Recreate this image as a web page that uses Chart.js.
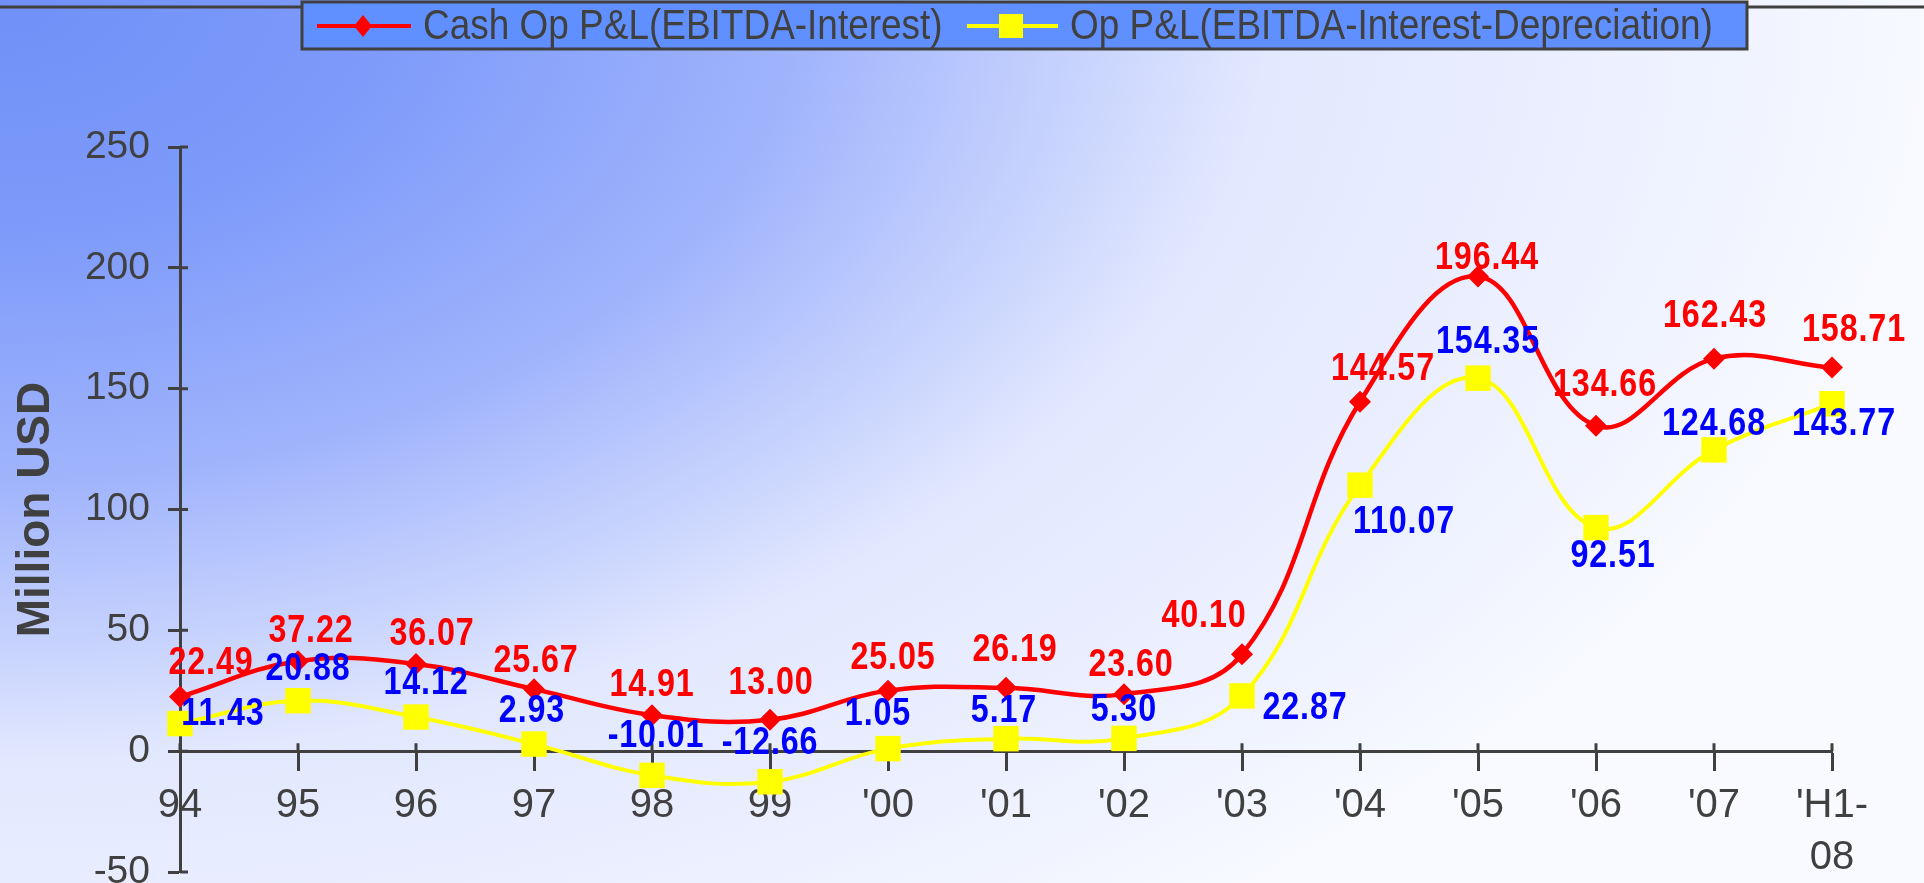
<!DOCTYPE html>
<html>
<head>
<meta charset="utf-8">
<script src="https://cdn.jsdelivr.net/npm/chart.js@4.4.0/dist/chart.umd.min.js"></script>
<style>
html, body { margin: 0; padding: 0; overflow: hidden; background: #eef1ff; height: 883px; }
#wrap { width: 1924px; height: 883px; position: relative; }
</style>
</head>
<body>
<div id="wrap"><canvas id="chart"></canvas></div>
<script>
/*
DATA
*/
// years on the x axis (last one is a two line label)
const years = ['94', '95', '96', '97', '98', '99', "'00", "'01", "'02", "'03", "'04", "'05", "'06", "'07", ["'H1-", '08']];

// Cash Op P&L (EBITDA - Interest), million USD
const cashOp = [22.49, 37.22, 36.07, 25.67, 14.91, 13.00, 25.05, 26.19, 23.60, 40.10, 144.57, 196.44, 134.66, 162.43, 158.71];

// Op P&L (EBITDA - Interest - Depreciation), million USD
const opPL = [11.43, 20.88, 14.12, 2.93, -10.01, -12.66, 1.05, 5.17, 5.30, 22.87, 110.07, 154.35, 92.51, 124.68, 143.77];

// y axis tick values
const yTickValues = [-50, 0, 50, 100, 150, 200, 250];

const seriesNames = ['Cash Op P&L(EBITDA-Interest)', 'Op P&L(EBITDA-Interest-Depreciation)'];

/*
STYLE
*/
const FONT = "'Liberation Sans', Arial, sans-serif";
const AXIS_COLOR = '#404040';
// the original text is narrow, so hand drawn text is squeezed a bit
const SQUEEZE = 0.85;
// wanted bottom of the plot area (the -50 tick), px
const PLOT_BOTTOM = 872;

// where each value label sits relative to its point (px)
const cashLabelNudge = [[31,-33],[13,-30],[16,-29],[2,-28],[0,-30],[1,-36],[5,-32],[9,-37],[7,-29],[-38,-38],[23,-32],[9,-18],[9,-40],[1,-42],[22,-37]];
const opLabelNudge = [[43,-9],[10,-31],[10,-34],[-2,-33],[4,-39],[0,-38],[-10,-34],[-2,-27],[0,-28],[63,13],[44,37],[10,-36],[17,29],[0,-25],[12,21]];

//draw text squeezed horizontally around its anchor
function squeezedText(ctx, text, x, y, k) {
  ctx.save();
  ctx.translate(x, y);
  ctx.scale(k, 1);
  ctx.fillText(text, 0, 0);
  ctx.restore();
}

//gradient background behind everything
const background = {
  id: 'background',
  beforeDraw(chart) {
    const ctx = chart.ctx;
    const k = 0.6;
    ctx.save();
    ctx.scale(1, k);
    const g = ctx.createRadialGradient(0, 0, 0, 0, 0, 1950);
    g.addColorStop(0, '#7090f8');
    g.addColorStop(0.2, '#7e9bfa');
    g.addColorStop(0.41, '#a0b4fc');
    g.addColorStop(0.65, '#e2e8fe');
    g.addColorStop(0.83, '#ecf0ff');
    g.addColorStop(1, '#f8faff');
    ctx.fillStyle = g;
    ctx.fillRect(0, 0, chart.width, chart.height / k);
    ctx.restore();
  }
};

//the part of the tick marks that goes inside the axes
const innerTicks = {
  id: 'innerTicks',
  beforeDatasetsDraw(chart) {
    const {ctx, scales: {x, y}} = chart;
    const y0 = y.getPixelForValue(0);
    ctx.save();
    ctx.strokeStyle = AXIS_COLOR;
    ctx.lineWidth = 3;
    ctx.beginPath();
    x.ticks.forEach((t, i) => {
      const px = x.getPixelForTick(i);
      ctx.moveTo(px, y0);
      ctx.lineTo(px, y0 - 8);
    });
    y.ticks.forEach((t, i) => {
      const py = y.getPixelForTick(i);
      ctx.moveTo(y.right, py);
      ctx.lineTo(y.right + 8, py);
    });
    ctx.stroke();
    ctx.restore();
  }
};

//value labels next to every point
const valueLabels = {
  id: 'valueLabels',
  afterDatasetsDraw(chart) {
    const ctx = chart.ctx;
    const sets = [
      {meta: chart.getDatasetMeta(0), values: cashOp, nudge: cashLabelNudge, color: '#ff0000'},
      {meta: chart.getDatasetMeta(1), values: opPL, nudge: opLabelNudge, color: '#0000ff'}
    ];
    ctx.save();
    ctx.font = 'bold 38px ' + FONT;
    ctx.letterSpacing = '1px';
    ctx.textAlign = 'center';
    ctx.textBaseline = 'middle';
    for (let s of sets) {
      ctx.fillStyle = s.color;
      s.meta.data.forEach((pt, i) => {
        squeezedText(ctx, s.values[i].toFixed(2), pt.x + s.nudge[i][0], pt.y + s.nudge[i][1], SQUEEZE);
      });
    }
    ctx.restore();
  }
};

//boxed legend at the top
const boxLegend = {
  id: 'boxLegend',
  afterDraw(chart) {
    const ctx = chart.ctx;
    ctx.save();
    ctx.strokeStyle = AXIS_COLOR;
    ctx.lineWidth = 3;
    ctx.beginPath();
    ctx.moveTo(0, 7);
    ctx.lineTo(chart.width, 7);
    ctx.stroke();

    ctx.fillStyle = '#6090ff';
    ctx.fillRect(302, 2, 1445, 47);
    ctx.strokeRect(302, 2, 1445, 47);

    const cy = 26;
    // red sample
    ctx.strokeStyle = '#ff0000';
    ctx.lineWidth = 4;
    ctx.beginPath();
    ctx.moveTo(317, cy); ctx.lineTo(411, cy);
    ctx.stroke();
    ctx.fillStyle = '#ff0000';
    ctx.beginPath();
    ctx.moveTo(363 - 9, cy); ctx.lineTo(363, cy - 11); ctx.lineTo(363 + 9, cy); ctx.lineTo(363, cy + 11);
    ctx.closePath();
    ctx.fill();
    // yellow sample
    ctx.strokeStyle = '#ffff00';
    ctx.beginPath();
    ctx.moveTo(967, cy); ctx.lineTo(1058, cy);
    ctx.stroke();
    ctx.fillStyle = '#ffff00';
    ctx.fillRect(1011 - 12, cy - 12, 24, 24);

    ctx.fillStyle = AXIS_COLOR;
    ctx.font = '42px ' + FONT;
    ctx.textAlign = 'left';
    ctx.textBaseline = 'middle';
    squeezedText(ctx, seriesNames[0], 423, cy + 1, 0.88);
    squeezedText(ctx, seriesNames[1], 1070, cy + 1, 0.88);
    ctx.restore();
  }
};

let wrap = document.getElementById('wrap');
let canvas = document.getElementById('chart');

let chart = new Chart(canvas, {
  type: 'line',
  data: {
    labels: years,
    datasets: [{
      label: seriesNames[0],
      data: cashOp,
      borderColor: '#ff0000',
      backgroundColor: '#ff0000',
      borderWidth: 4.5,
      pointStyle: 'rectRot',
      pointRadius: 11,
      pointBorderWidth: 0,
      tension: 0.4,
      clip: false
    }, {
      label: seriesNames[1],
      data: opPL,
      borderColor: '#ffff00',
      backgroundColor: '#ffff00',
      borderWidth: 4,
      pointStyle: 'rect',
      pointRadius: 18,
      pointBorderWidth: 0,
      tension: 0.4,
      clip: false
    }]
  },
  options: {
    responsive: true,
    maintainAspectRatio: false,
    animation: false,
    layout: { padding: { top: 147, right: 92, bottom: 0, left: 0 } },
    plugins: {
      legend: { display: false },
      tooltip: { enabled: false }
    },
    scales: {
      x: {
        position: { y: 0 },
        offset: false,
        grid: { drawOnChartArea: false, tickLength: 18, tickWidth: 3, tickColor: AXIS_COLOR },
        border: { color: AXIS_COLOR, width: 3 },
        ticks: {
          color: AXIS_COLOR,
          font: { family: FONT, size: 40, lineHeight: 1.3 },
          padding: 11,
          maxRotation: 0,
          autoSkip: false
        }
      },
      y: {
        min: -50,
        max: 250,
        afterBuildTicks(scale) {
          scale.ticks = yTickValues.map(v => ({ value: v }));
        },
        afterFit(scale) {
          scale.width = 180;
        },
        grid: { drawOnChartArea: false, tickLength: 12, tickWidth: 3, tickColor: AXIS_COLOR },
        border: { color: AXIS_COLOR, width: 3 },
        ticks: {
          color: AXIS_COLOR,
          font: { family: FONT, size: 39 },
          padding: 18
        },
        title: {
          display: true,
          text: 'Million USD',
          color: AXIS_COLOR,
          font: { family: FONT, size: 46, weight: 'bold' },
          padding: { top: 9, bottom: 0 }
        }
      }
    }
  },
  plugins: [background, innerTicks, valueLabels, boxLegend]
});

//the -50 label needs room under the plot, let the canvas run past the window instead
let extra = PLOT_BOTTOM - chart.chartArea.bottom;
if (extra > 0) {
  wrap.style.height = (883 + extra) + 'px';
  chart.resize(1924, 883 + extra);
}
</script>
</body>
</html>
